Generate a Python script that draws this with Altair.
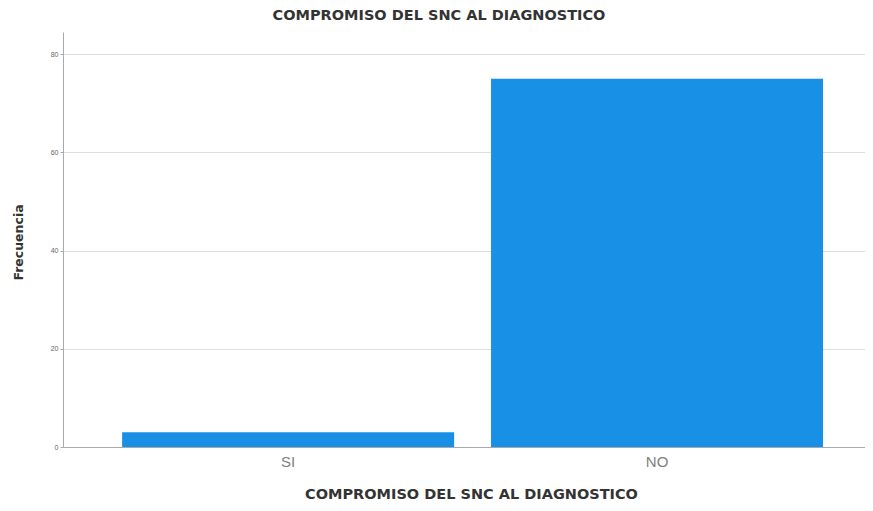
import altair as alt
import pandas as pd

categorias = ["SI", "NO"]
frecuencias = [3, 75]
y_ticks = [0, 20, 40, 60, 80]

df = pd.DataFrame({"cat": categorias, "freq": frecuencias})

chart = alt.Chart(df).mark_bar(color="#1790e6").encode(
    x=alt.X("cat:N", sort=categorias,
            scale=alt.Scale(paddingInner=0.1, paddingOuter=0.137, align=0.585),
            axis=alt.Axis(title="COMPROMISO DEL SNC AL DIAGNOSTICO", labelAngle=0,
                          labelFontSize=15, labelColor="#808080", labelFont="Liberation Sans",
                          labelPadding=7, ticks=False, domainColor="#aaaaaa",
                          titleFontSize=14.5, titleFont="DejaVu Sans", titleFontWeight="bold",
                          titleColor="#333333", titlePadding=18, titleX=408)),
    y=alt.Y("freq:Q", scale=alt.Scale(domain=[0, 84.5], nice=False),
            axis=alt.Axis(title="Frecuencia", values=y_ticks, labelFontSize=7,
                          labelColor="#666666", labelFont="Liberation Sans",
                          tickSize=3, tickColor="#aaaaaa", domainColor="#aaaaaa",
                          gridColor="#dddddd", titleFontSize=12.5, titleFont="DejaVu Sans",
                          titleFontWeight="bold", titleColor="#333333", titlePadding=25,
                          titleY=210)),
).properties(
    width=802,
    height=415,
    title=alt.TitleParams("COMPROMISO DEL SNC AL DIAGNOSTICO", fontSize=14.5,
                          font="DejaVu Sans", fontWeight="bold", color="#333333",
                          dx=-25, offset=9),
    autosize=alt.AutoSizeParams(type="none"),
    padding={"left": 55, "top": 24, "right": 0, "bottom": 55},
).configure_view(stroke=None)

chart.save("out.html", embed_options={"renderer": "svg", "actions": False})
